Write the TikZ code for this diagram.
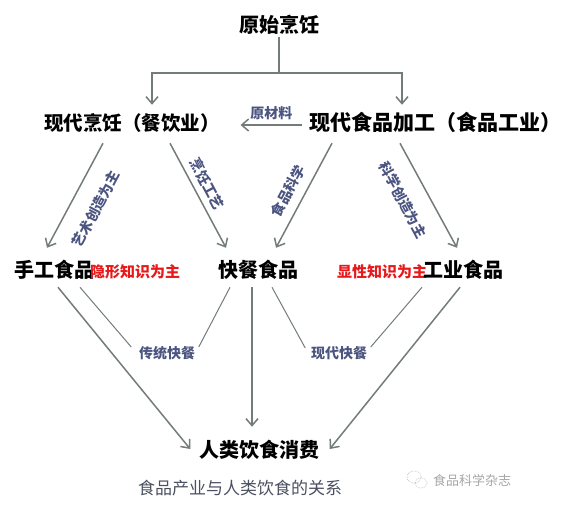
\documentclass[tikz,border=0pt]{standalone}
\usepackage{fontspec}
\newfontfamily\cjk{Noto Sans CJK SC}
\usetikzlibrary{arrows.meta,calc}
\definecolor{arrgray}{HTML}{737B7B}
\definecolor{lblblue}{HTML}{4B5580}
\definecolor{hintred}{HTML}{E8191A}
\definecolor{capgray}{HTML}{4A5060}

\begin{document}
\begin{tikzpicture}[x={(1pt,0pt)},y={(0pt,-1pt)},line width=1.5pt,>={Straight Barb[length=7pt,width=12pt]},
  box/.style={font=\cjk\bfseries\fontsize{20}{20}\selectfont,inner sep=0pt,text height=15pt,text depth=4pt},
  tag/.style={font=\cjk\bfseries\fontsize{14}{14}\selectfont,text=lblblue,inner sep=1pt},
  hint/.style={font=\cjk\bfseries\fontsize{15}{15}\selectfont,text=hintred,inner sep=0pt},
  arr/.style={->,draw=arrgray},
  tie/.style={draw=arrgray,line width=1pt}]
  \useasboundingbox (0,0) rectangle (568,506);
  % niveles
  \node[box] (yuan) at (279,27) {原始烹饪};
  \node[box,font=\cjk\bfseries\fontsize{19.5}{19.5}\selectfont] (pr) at (132,125) {现代烹饪（餐饮业）};
  \node[box,font=\cjk\bfseries\fontsize{21}{21}\selectfont] (jg) at (435,125) {现代食品加工（食品工业）};
  \node[box] (sg) at (54,272) {手工食品};
  \node[hint] (yx) at (135,272) {隐形知识为主};
  \node[box] (kc) at (258,272) {快餐食品};
  \node[hint] (xx) at (382,272) {显性知识为主};
  \node[box] (gy) at (463,272) {工业食品};
  \node[box] (xf) at (259,452) {人类饮食消费};
  % bifurcacion
  \coordinate (fork) at (279,73);
  \draw[draw=arrgray] (yuan.south) -- (fork);
  \draw[arr] (fork) -| ($(pr.north)+(20,-10)$);
  \draw[arr] (fork) -| ($(jg.north)+(-33,-10)$);
  \draw[arr] ($(jg.west)+(-6,0)$) -- ($(pr.east)+(20,0)$) node[tag,midway,above=3pt] (ycl) {原材料};
  % flechas diagonales
  \draw[arr] ($(pr.south)+(-29,8)$) -- ($(sg.north)+(-7,-14)$);
  \draw[arr] ($(pr.south)+(38,8)$) -- ($(kc.north)+(-32,-14)$);
  \draw[arr] ($(jg.south)+(-103,8)$) -- ($(kc.north)+(18,-14)$);
  \draw[arr] ($(jg.south)+(-35,8)$) -- ($(gy.north)+(-6,-14)$);
  \node[tag,rotate=62]  (t1) at (96,209) {艺术创造为主};
  \node[tag,rotate=-62] (t2) at (207,184) {烹饪工艺};
  \node[tag,rotate=62]  (t3) at (288,191) {食品科学};
  \node[tag,rotate=-62] (t4) at (403,200) {科学创造为主};
  % hacia el consumo
  \node[tag] (ct) at (167,353) {传统快餐};
  \node[tag] (xd) at (339,353) {现代快餐};
  \draw[arr] ($(sg.south)+(4,5)$) -- ($(xf.west)+(-8,-3)$);
  \draw[tie] ($(sg.south)+(26,5)$) -- ($(ct.west)+(-6,-6)$);
  \draw[tie] ($(kc.south)+(-28,5)$) -- ($(ct.east)+(2,-6)$);
  \draw[arr] ($(kc.south)+(-6,5)$) -- ($(xf.north)+(-7,-15)$);
  \draw[tie] ($(kc.south)+(14,5)$) -- ($(xd.west)+(-4,-5)$);
  \draw[tie] ($(gy.south)+(-41,5)$) -- ($(xd.east)+(2,-6)$);
  \draw[arr] ($(gy.south)+(-3,5)$) -- ($(xf.east)+(10,-3)$);
  % pie
  \node[font=\cjk\fontsize{17}{17}\selectfont,text=capgray] (cap) at (240,488) {食品产业与人类饮食的关系};
  \node[font=\cjk\fontsize{13}{13}\selectfont,text=gray!70,anchor=west] (wm) at (429,480) {食品科学杂志};
  \draw[gray!55,line width=0.6pt,densely dotted] (414,477) ellipse (7 and 6) (421,483) ellipse (6 and 5);
\end{tikzpicture}
\end{document}
